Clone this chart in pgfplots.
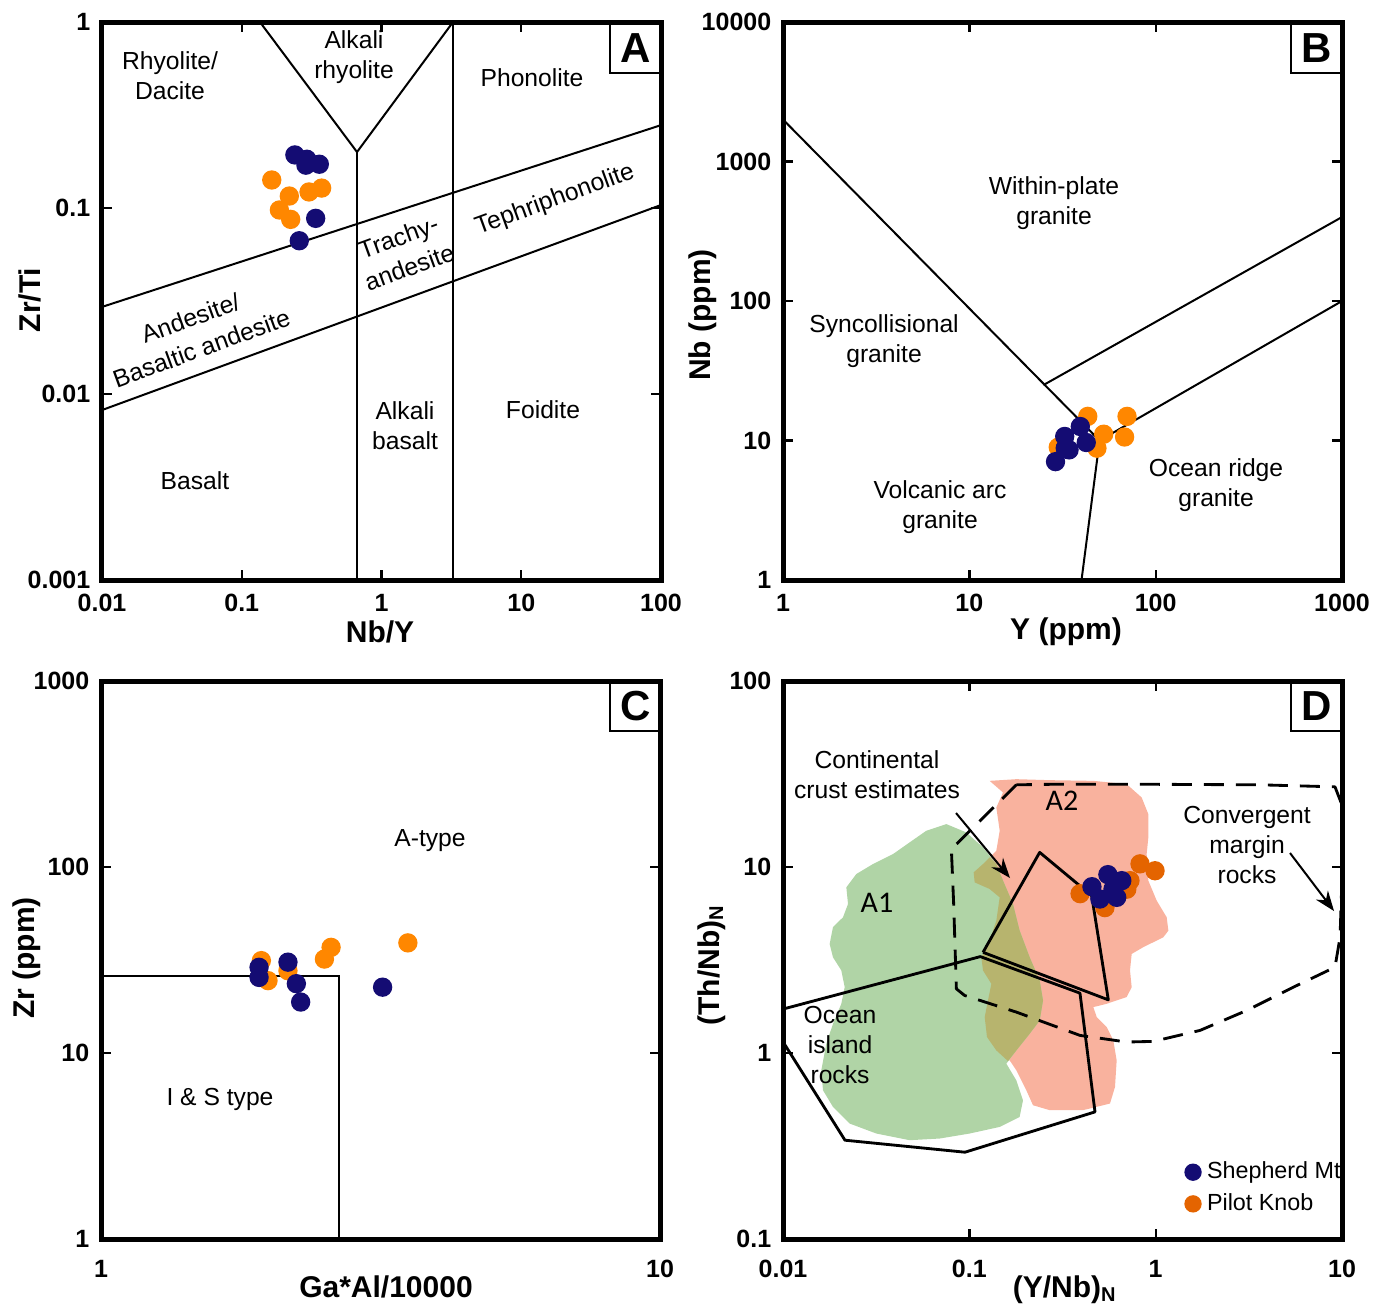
\documentclass[border=0pt]{standalone}
\usepackage{fontspec}
\setmainfont{Liberation Sans}
\newfontfamily\carlito{Carlito}
\usepackage{pgfplots}
\pgfplotsset{compat=1.18}
\usetikzlibrary{arrows.meta}
\definecolor{navy}{RGB}{20,12,115}
\definecolor{orng}{RGB}{255,135,0}
\definecolor{orngD}{RGB}{228,100,0}
\definecolor{salmon}{RGB}{249,178,158}
\definecolor{greenA}{RGB}{176,212,166}
\definecolor{oliveA}{RGB}{183,180,110}

\pgfplotsset{
  every axis/.append style={
    scale only axis, width=167.7pt, height=167.4pt,
    axis on top,
    axis line style={line width=1.5pt},
    tick align=inside,
    major tick length=3pt,
    every tick/.append style={line width=0.7pt, black},
    xminorticks=false, yminorticks=false,
    tick label style={font=\fontsize{7.5}{9}\selectfont\bfseries},
    anchor=south west,
  },
}
\tikzset{
  myreg/.style={black, line width=0.6pt},
  myor/.style={only marks, mark=*, mark size=2.7pt, color=orng},
  mynv/.style={only marks, mark=*, mark size=2.7pt, color=navy},
}

\begin{document}
\begin{tikzpicture}
\useasboundingbox (0,0) rectangle (414.3pt,-392.1pt);

% ---------------- A ----------------
\begin{loglogaxis}[at={(30.6pt,-174pt)},
  xmin=0.01, xmax=100, ymin=0.001, ymax=1,
  xtick={0.01,0.1,1,10,100}, xticklabels={0.01,0.1,1,10,100},
  ytick={0.001,0.01,0.1,1}, yticklabels={0.001,0.01,0.1,1},
  xticklabel style={yshift=-0.6pt}]
\addplot[myreg] coordinates {(0.135,1) (0.668,0.2) (3.25,1)};
\addplot[myreg] coordinates {(0.668,0.2) (0.668,0.001)};
\addplot[myreg] coordinates {(3.25,1) (3.25,0.001)};
\addplot[myreg] coordinates {(0.01,0.0294) (100,0.279)};
\addplot[myreg] coordinates {(0.01,0.0082) (100,0.1038)};
\addplot[myor] coordinates {(0.164,0.1415) (0.219,0.116) (0.303,0.122) (0.373,0.128) (0.186,0.0976) (0.224,0.0869)};
\addplot[mynv] coordinates {(0.240,0.193) (0.292,0.183) (0.288,0.170) (0.359,0.172) (0.338,0.0880) (0.258,0.0667)};
\end{loglogaxis}

% ---------------- B ----------------
\begin{loglogaxis}[at={(234.9pt,-174pt)},
  xmin=1, xmax=1000, ymin=1, ymax=10000,
  xtick={1,10,100,1000}, xticklabels={1,10,100,1000},
  ytick={1,10,100,1000,10000}, yticklabels={1,10,100,1000,10000},
  xticklabel style={yshift=-0.6pt}]
\addplot[myreg] coordinates {(1,2000) (50,10) (40,1)};
\addplot[myreg] coordinates {(25,25) (1000,400)};
\addplot[myreg] coordinates {(50,10) (1000,100)};
\addplot[myor] coordinates {(43.2,14.9) (70.2,14.9) (52.6,11.1) (68.1,10.6) (48.4,8.81) (30.0,8.95)};
\addplot[mynv] coordinates {(39.4,12.6) (32.5,10.7) (32.7,8.81) (34.3,8.57) (42.4,9.68) (29.0,7.06)};
\end{loglogaxis}

% ---------------- C ----------------
\begin{loglogaxis}[at={(30.3pt,-371.7pt)},
  xmin=1, xmax=10, ymin=1, ymax=1000,
  xtick={1,10}, xticklabels={1,10},
  ytick={1,10,100,1000}, yticklabels={1,10,100,1000},
  xticklabel style={yshift=-2.8pt}]
\addplot[myreg] coordinates {(1,26.1) (2.67,26.1) (2.67,1)};
\addplot[myor] coordinates {(1.936,31.4) (1.99,24.5) (2.16,27.7) (2.58,37.0) (2.51,32.0) (3.54,39.1)};
\addplot[mynv] coordinates {(1.918,28.9) (1.918,25.5) (2.16,30.8) (2.236,23.6) (2.276,18.8) (3.19,22.6)};
\end{loglogaxis}

% ---------------- D ----------------
\begin{loglogaxis}[at={(234.9pt,-371.7pt)},
  xmin=0.01, xmax=10, ymin=0.1, ymax=100,
  xtick={0.01,0.1,1,10}, xticklabels={0.01,0.1,1,10},
  ytick={0.1,1,10,100}, yticklabels={0.1,1,10,100},
  xticklabel style={yshift=-2.8pt},
  legend style={draw=none, fill=none, at={(0.718,0.0914)}, anchor=west,
    font=\fontsize{7}{8.4}\selectfont, legend cell align=left,
    inner sep=0pt, row sep=1.6pt, column sep=1.2pt,
    nodes={inner sep=0.6pt, text height=5.2pt, text depth=1.5pt}},
  legend image code/.code={\draw[#1] plot coordinates {(0pt,0pt)};}]
\addlegendimage{only marks, mark=*, mark size=2.4pt, color=navy}
\addlegendentry{Shepherd Mt}
\addlegendimage{only marks, mark=*, mark size=2.4pt, color=orngD}
\addlegendentry{Pilot Knob}
% A2 field
\addplot[fill=salmon, draw=none, forget plot] coordinates {(0.1285,29.06) (0.1516,25.16) (0.1396,20.91) (0.1455,15.67) (0.1396,12.24) (0.1184,10.38) (0.1055,9.36) (0.1068,8.27) (0.1285,7.62) (0.1455,6.87) (0.1396,5.15) (0.1285,4.02) (0.1160,3.27) (0.1184,2.78) (0.1313,2.355) (0.1259,1.917) (0.1209,1.561) (0.1244,1.219) (0.1396,1.033) (0.1646,0.913) (0.1788,0.807) (0.2022,0.631) (0.2196,0.524) (0.2699,0.493) (0.4074,0.493) (0.5686,0.535) (0.6050,0.657) (0.6175,0.913) (0.5926,1.170) (0.5458,1.379) (0.4826,1.561) (0.4628,1.766) (0.5458,1.840) (0.6990,2.00) (0.7435,2.26) (0.7284,2.78) (0.7435,3.41) (0.8586,3.71) (1.099,4.19) (1.170,4.55) (1.146,5.37) (1.0125,6.60) (0.9133,8.45) (0.8946,11.74) (0.9133,14.43) (0.9133,19.25) (0.8412,23.65) (0.6990,27.89) (0.4628,29.06) (0.2699,29.31) (0.1788,29.67)};
% A1 field
\addplot[fill=greenA, draw=none, forget plot] coordinates {(0.07524,17.02) (0.05876,15.67) (0.04783,13.57) (0.03895,11.74) (0.03041,10.38) (0.02475,9.17) (0.02187,7.78) (0.02233,6.33) (0.02099,5.37) (0.01855,4.75) (0.01780,3.86) (0.01855,3.27) (0.02056,2.78) (0.02143,2.26) (0.02056,1.840) (0.01855,1.437) (0.01708,1.122) (0.01605,0.807) (0.01639,0.631) (0.01855,0.513) (0.02280,0.4176) (0.03169,0.3692) (0.04783,0.3399) (0.06930,0.3470) (0.1004,0.3692) (0.1455,0.4007) (0.1862,0.4534) (0.1941,0.557) (0.1788,0.713) (0.1580,0.8766) (0.1788,1.033) (0.2108,1.270) (0.2385,1.497) (0.2485,1.917) (0.2385,2.455) (0.2108,3.27) (0.1862,4.55) (0.1715,6.33) (0.1516,8.45) (0.1396,10.38) (0.1184,12.75) (0.09636,15.35)};
% overlap
\addplot[fill=oliveA, draw=none, forget plot] coordinates {(0.1285,11.27) (0.1184,10.38) (0.1055,9.36) (0.1068,8.27) (0.1285,7.62) (0.1455,6.87) (0.1396,5.15) (0.1285,4.02) (0.1160,3.27) (0.1184,2.78) (0.1313,2.355) (0.1259,1.917) (0.1209,1.561) (0.1244,1.219) (0.1396,1.033) (0.1612,0.906) (0.1788,1.033) (0.2108,1.270) (0.2385,1.497) (0.2485,1.917) (0.2385,2.455) (0.2108,3.27) (0.1862,4.55) (0.1715,6.33) (0.1516,8.45) (0.1396,10.38)};
% samples
\addplot[myor, color=orngD, forget plot] coordinates {(0.393,7.19) (0.534,6.05) (0.728,8.45) (0.824,10.4) (0.992,9.55) (0.70,7.6)};
\addplot[mynv, forget plot] coordinates {(0.455,7.84) (0.554,9.10) (0.658,8.45) (0.618,6.87) (0.502,6.73) (0.590,7.6)};
% continental crust estimates
\addplot[black, line width=0.85pt, line join=round, forget plot] coordinates {(0.1184,3.48) (0.2385,11.99) (0.4534,7.02) (0.557,1.932) (0.1184,3.48)};
% ocean island rocks
\addplot[black, line width=0.85pt, line join=round, forget plot] coordinates {(0.00804,1.626) (0.1146,3.30) (0.3925,2.099) (0.4725,0.4826) (0.0948,0.2930) (0.02151,0.3399) (0.00804,1.626)};
% convergent margin rocks
\addplot[black, line width=0.85pt, dash pattern=on 6pt off 3.6pt, line join=round, forget plot] coordinates {(0.1788,27.67) (0.0801,12.49) (0.0824,6.33) (0.0852,2.214) (0.0944,2.039) (0.1788,1.660) (0.3925,1.244) (0.6990,1.146) (0.9716,1.155) (1.729,1.323) (3.079,1.694) (5.481,2.26) (9.17,2.894) (9.76,4.19) (9.96,7.78) (9.96,21.78) (9.17,26.98) (3.63,27.67) (0.6990,27.89) (0.3067,27.89) (0.1788,27.67)};
\end{loglogaxis}

\begin{scope}[x=0.3pt,y=-0.3pt]
\tikzset{lab/.style={font=\fontsize{7.4}{9}\selectfont, align=center, inner sep=0pt},
  rlab/.style={font=\fontsize{7.4}{9.6}\selectfont, align=center, inner sep=0pt, rotate=20},
  xl/.style={font=\fontsize{9}{10}\selectfont\bfseries, inner sep=0pt},
  pl/.style={font=\fontsize{12.6}{13}\selectfont\bfseries, inner sep=0pt}}
% panel letters
\draw[line width=0.8pt] (610,22) -- (610,73) -- (662,73);
\node[pl] at (636,48) {A};
\draw[line width=0.8pt] (1291,22) -- (1291,73) -- (1343,73);
\node[pl] at (1317,48) {B};
\draw[line width=0.8pt] (610,680) -- (610,731) -- (662,731);
\node[pl] at (636,706) {C};
\draw[line width=0.8pt] (1291,680) -- (1291,731) -- (1343,731);
\node[pl] at (1317,706) {D};
% axis labels
\node[xl] at (380,632) {Nb/Y};
\node[xl, rotate=90] at (30,300) {Zr/Ti};
\node[xl] at (1066,632) {Y (ppm)};
\node[xl, rotate=90] at (703,315) {Nb (ppm)};
\node[xl] at (386,1287) {Ga*Al/10000};
\node[xl, rotate=90] at (27,958) {Zr (ppm)};
\node[xl] at (1065,1290) {(Y/Nb)\textsubscript{N}};
\node[xl, rotate=90] at (712,965) {(Th/Nb)\textsubscript{N}};
% A labels
\node[lab] at (170,76) {Rhyolite/\\Dacite};
\node[lab] at (354,57) {Alkali\\rhyolite};
\node[lab] at (532,78) {Phonolite};
\node[rlab] at (404,252) {Trachy-\\andesite};
\node[rlab] at (555,200) {Tephriphonolite};
\node[rlab] at (196,333) {Andesite/\\Basaltic andesite};
\node[lab] at (405,426) {Alkali\\basalt};
\node[lab] at (543,410) {Foidite};
\node[lab] at (195,481) {Basalt};
% B labels
\node[lab] at (1054,203) {Within-plate\\granite};
\node[lab] at (884,341) {Syncollisional\\granite};
\node[lab] at (940,507) {Volcanic arc\\granite};
\node[lab] at (1216,485) {Ocean ridge\\granite};
% C labels
\node[lab] at (430,841) {A-type};
\node[lab] at (220,1099) {I \& S type};
% D labels
\node[lab] at (877,775) {Continental\\crust estimates};
\node[font=\carlito\fontsize{9}{10}\selectfont, inner sep=0pt] at (1062,801) {A2};
\node[font=\carlito\fontsize{9}{10}\selectfont, inner sep=0pt] at (877,903) {A1};
\node[lab] at (1247,845) {Convergent\\margin\\rocks};
\node[lab] at (840,1045) {Ocean\\island\\rocks};
\draw[line width=0.6pt, -{Stealth[length=6pt,width=4.5pt]}] (956,813) -- (1010,878);
\draw[line width=0.6pt, -{Stealth[length=6pt,width=4.5pt]}] (1290,853) -- (1334,911);
\end{scope}
\end{tikzpicture}
\end{document}
